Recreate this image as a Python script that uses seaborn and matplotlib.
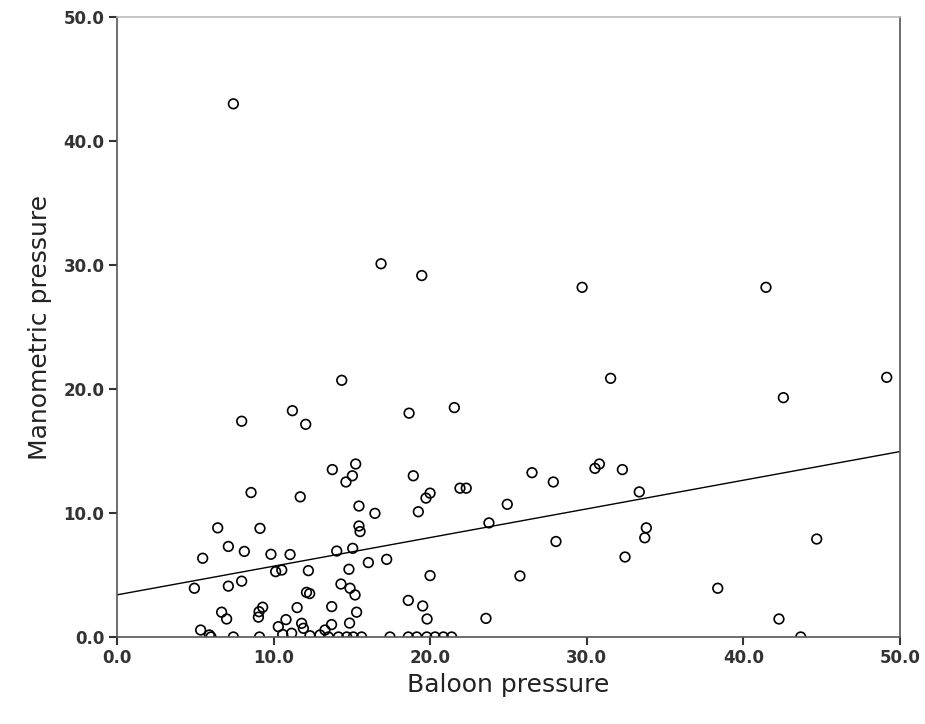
import numpy as np
import pandas as pd
import seaborn as sns
import matplotlib.pyplot as plt

# Points (balloon vs manometric pressure)
baloon = [
    7.43, 16.86, 19.46, 29.7, 41.44, 31.52, 49.15, 42.55, 14.35, 7.96,
    11.2, 12.05, 18.65, 21.54, 13.75, 15.24, 15.03, 14.62, 18.92, 19.99,
    19.73, 19.24, 21.9, 22.3, 26.5, 27.86, 30.52, 30.8, 32.27, 33.35,
    24.92, 23.75, 33.8, 33.7, 28.03, 32.44, 25.73, 23.56, 44.68, 38.36,
    42.27, 43.66, 8.56, 11.7, 6.43, 9.13, 7.11, 8.13, 5.47, 9.83,
    11.05, 10.13, 10.52, 4.94, 7.11, 7.96, 6.68, 7.0, 9.07, 9.3,
    9.03, 11.5, 10.79, 10.3, 5.34, 5.9, 6.0, 7.43, 9.1, 11.15,
    10.58, 11.79, 11.9, 12.32, 12.96, 13.28, 15.45, 16.47, 15.45, 15.52,
    14.03, 15.05, 16.05, 17.22, 12.22, 14.81, 14.3, 14.88, 15.2, 12.1,
    12.3, 19.99, 18.6, 19.52, 19.8, 13.71, 15.3, 14.85, 13.7,
    13.5, 14.14, 14.67, 15.09, 15.62, 17.43, 18.6, 19.14, 19.78, 20.31,
    20.84, 21.37,
]
manometric = [
    43.0, 30.1, 29.15, 28.2, 28.2, 20.86, 20.94, 19.3, 20.7, 17.4,
    18.25, 17.15, 18.05, 18.5, 13.5, 13.95, 13.0, 12.5, 13.0, 11.6,
    11.2, 10.1, 12.0, 12.0, 13.25, 12.5, 13.6, 13.95, 13.5, 11.7,
    10.7, 9.2, 8.8, 8.0, 7.7, 6.45, 4.92, 1.5, 7.9, 3.93,
    1.45, 0.0, 11.65, 11.3, 8.8, 8.76, 7.3, 6.9, 6.35, 6.67,
    6.65, 5.27, 5.4, 3.93, 4.1, 4.5, 2.0, 1.45, 2.04, 2.4,
    1.6, 2.37, 1.4, 0.83, 0.56, 0.16, 0.0, 0.0, 0.0, 0.3,
    0.2, 1.1, 0.7, 0.1, 0.16, 0.56, 10.56, 9.97, 8.95, 8.5,
    6.93, 7.15, 6.0, 6.26, 5.35, 5.46, 4.27, 3.93, 3.39, 3.6,
    3.5, 4.95, 2.95, 2.5, 1.45, 2.45, 2.0, 1.12, 1.0,
    0.0, 0.0, 0.0, 0.0, 0.0, 0.0, 0.0, 0.0, 0.0, 0.0,
    0.0, 0.0,
]
ticks = [0, 10, 20, 30, 40, 50]

df = pd.DataFrame({"Baloon pressure": baloon, "Manometric pressure": manometric})

sns.set_style("ticks")
plt.rcParams["font.family"] = ["DejaVu Sans"]

fig = plt.figure(figsize=(9.25, 7.24), dpi=100)
ax = fig.add_axes([0.1265, 0.1202, 0.8465, 0.8563])
ax.set_xlim(0, 50)
ax.set_ylim(0, 50)

# fit line spans the full axis (truncate=False uses current limits)
sns.regplot(data=df, x="Baloon pressure", y="Manometric pressure", ax=ax,
            ci=None, truncate=False,
            scatter_kws={"facecolors": "none", "edgecolors": "black",
                         "s": 48, "linewidths": 1.2, "alpha": 1},
            line_kws={"color": "black", "linewidth": 1.0})

ax.set_xlim(0, 50)
ax.set_ylim(0, 50)
ax.set_xticks(ticks)
ax.set_yticks(ticks)
ax.set_xticklabels([f"{t:.1f}" for t in ticks], fontsize=12, fontweight="bold", color="#333333")
ax.set_yticklabels([f"{t:.1f}" for t in ticks], fontsize=12, fontweight="bold", color="#333333")
ax.tick_params(direction="out", length=6, width=1.5, color="#333333", pad=3)

for side in ["left", "bottom", "right", "top"]:
    ax.spines[side].set_visible(True)
    ax.spines[side].set_color("#555555")
    ax.spines[side].set_linewidth(1.2)
ax.spines["top"].set_color("#bbbbbb")

ax.set_xlabel("Baloon pressure", fontsize=18, color="#222222", labelpad=4)
ax.set_ylabel("Manometric pressure", fontsize=18, color="#222222", labelpad=8)

fig.savefig("out.png", dpi=100)
